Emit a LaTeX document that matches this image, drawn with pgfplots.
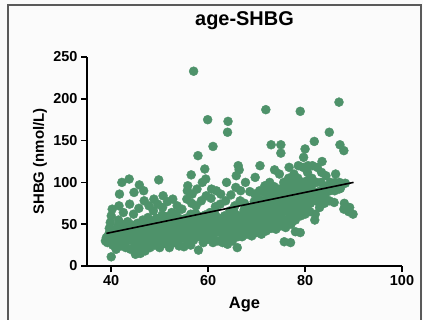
\documentclass[border=0pt]{standalone}
\usepackage{fontspec}
\setmainfont{Liberation Sans}
\usepackage{pgfplots}
\pgfplotsset{compat=1.18}
\definecolor{dotgreen}{RGB}{78,146,106}
\definecolor{pagebg}{RGB}{251,251,251}
\definecolor{framegray}{RGB}{90,90,90}
\begin{document}
\begin{tikzpicture}
% page background and frame
\fill[pagebg] (0,0) rectangle (423bp,320bp);
\useasboundingbox (0,0) rectangle (423bp,320bp);
\draw[framegray, line width=1.2bp] (8bp,0) -- (8bp,315bp) -- (421bp,315bp) -- (421bp,0);
\begin{axis}[
  at={(87bp,54bp)}, anchor=south west,
  scale only axis, width=315bp, height=209bp,
  xmin=35, xmax=100, ymin=0, ymax=250,
  axis lines*=left,
  axis line style={line width=1.5bp, black},
  xtick={40,60,80,100}, ytick={0,50,100,150,200,250},
  tick align=outside, major tick length=6bp,
  tick style={line width=1.5bp, black},
  minor tick num=0,
  /pgf/number format/assume math mode=true,
  ticklabel style={font=\bfseries\fontsize{14.5}{16}\selectfont},
  title={age-SHBG},
  title style={at={(axis description cs:0.5,1.1435)}, anchor=center, font=\bfseries\fontsize{20}{22}\selectfont},
  xlabel={Age},
  xlabel style={at={(axis description cs:0.5,-0.187)}, anchor=center, font=\bfseries\fontsize{16.5}{18}\selectfont},
  ylabel={SHBG (nmol/L)},
  ylabel style={at={(axis description cs:-0.149,0.5)}, anchor=center, rotate=0, font=\bfseries\fontsize{15}{17}\selectfont},
  clip=false, clip marker paths=true,
]
% individual subjects
\addplot[only marks, mark=*, mark size=4.5bp, mark options={draw=dotgreen, fill=dotgreen}] coordinates {
(38.8,30)(39,34)(39.2,28)(39.5,38)(39.6,45)(39.8,52)(40,11)(40,60)(40.3,25)(40.5,33)(40.6,42)(40.2,68)
(41,20)(41,28)(41.2,36)(41.3,47)(41.5,55)(41.7,86)(42,24)(42,40)(42.2,31)(42.3,50)(42.5,64)(42.2,100)(41.6,72)
(43,22)(43.1,29)(43.2,36)(43.3,44)(43.4,53)(43.7,104)(43.8,74)(44,20)(44.1,33)(44.2,41)(44.3,49)(44.6,62)(44.7,88)(44.8,27)
(45,14)(45.1,24)(45.2,35)(45.3,43)(45.4,51)(45.7,69)(45.8,97)(46,15)(46.1,30)(46.2,22)(46.3,39)(46.4,47)(46.5,55)(46.7,90)(46.8,78)
(47,18)(47.1,27)(47.2,34)(47.3,42)(47.4,50)(47.6,58)(47.8,72)(48,22)(48.1,30)(48.2,38)(48.3,46)(48.4,54)(48.7,66)(48.8,80)
(49,25)(49.1,33)(49.2,41)(49.3,49)(49.4,57)(49.6,74)(49.8,103)(50,22)(50.1,30)(50.2,37)(50.3,45)(50.4,53)(50.5,61)(50.7,84)(50.6,70)
(51,27)(51.1,35)(51.2,43)(51.3,51)(51.4,59)(51.6,77)(52,22)(52.1,30)(52.2,38)(52.3,46)(52.4,54)(52.5,64)(52.7,80)
(53,28)(53.1,36)(53.2,44)(53.3,52)(53.4,62)(53.6,72)(54,24)(54.1,32)(54.2,40)(54.3,48)(54.4,56)(54.6,68)
(55,23)(55.1,33)(55.2,41)(55.3,49)(55.4,57)(55.6,80)(55.7,90)(56,27)(56.1,36)(56.2,44)(56.3,52)(56.4,62)(56.6,75)(56.7,86)(56.5,109)(56.4,25)(55.8,96)
(57,31)(57.1,39)(57.2,47)(57.3,55)(57.4,63)(57.5,72)(57.7,92)(57,233)(58,19)(58.1,35)(58.2,43)(58.3,51)(58.4,59)(58.6,78)(58.8,100)(57.9,132)
(59,28)(59.1,37)(59.2,45)(59.3,53)(59.4,61)(59.6,84)(59.3,116)(59.5,104)(60,32)(60.1,40)(60.2,48)(60.3,56)(60.4,64)(60.6,81)(60.7,92)(59.9,175)
(61,28)(61.1,38)(61.2,46)(61.3,54)(61.4,62)(61.5,71)(61.7,90)(61,143)(62,30)(62.1,41)(62.2,49)(62.3,57)(62.5,74)(62.6,86)
(63,28)(63.1,36)(63.2,44)(63.3,52)(63.4,60)(63.6,78)(63.8,100)(64,26)(64.1,33)(64.2,42)(64.3,50)(64.4,58)(64.5,66)(64.7,85)(64,160)(64.1,173)
(65,30)(65.1,40)(65.2,48)(65.3,56)(65.4,64)(65.5,72)(65.7,94)(65.8,108)(66,22)(66.1,35)(66.2,44)(66.3,52)(66.4,60)(66.6,78)(66.7,90)(66.2,120)(66.4,115)
(67,35)(67.1,43)(67.2,51)(67.3,59)(67.4,67)(67.5,75)(67.7,100)(68,38)(68.1,46)(68.2,54)(68.3,62)(68.4,70)(68.6,89)
(69,36)(69.1,44)(69.2,52)(69.3,60)(69.4,68)(69.5,77)(69.6,86)(69.7,106)(70,40)(70.1,48)(70.2,56)(70.3,64)(70.4,72)(70.5,80)(70.6,90)(70.7,120)
(71,38)(71.1,46)(71.2,54)(71.3,62)(71.4,70)(71.5,78)(71.6,88)(71.7,96)(72,42)(72.1,50)(72.2,58)(72.3,66)(72.4,74)(72.5,82)(72.6,90)(72.7,100)(71.9,187)
(73,45)(73.1,53)(73.2,61)(73.3,69)(73.4,77)(73.5,85)(73.6,95)(73.7,115)(73,145)(74,44)(74.1,52)(74.2,60)(74.3,68)(74.4,76)(74.5,84)(74.6,92)(74.7,110)
(75,48)(75.1,56)(75.2,64)(75.3,72)(75.4,80)(75.5,90)(75.6,100)(75,135)(75,145)(75.7,29)(76,46)(76.1,55)(76.2,65)(76.3,75)(76.4,85)(76.5,95)(76.6,105)(76.7,118)
(77,28)(77.1,50)(77.2,60)(77.3,70)(77.4,80)(77.5,90)(77.6,100)(77.7,110)(78,55)(78.1,65)(78.2,75)(78.3,85)(78.4,95)(78.5,105)(78.6,120)(78,41)
(79,40)(79.1,60)(79.2,70)(79.3,80)(79.4,90)(79.5,100)(79.6,118)(79,185)(79.7,130)(80,62)(80.1,72)(80.2,82)(80.3,92)(80.4,102)(80.5,112)(80.6,120)(80,140)
(81,65)(81.1,75)(81.2,85)(81.3,95)(81.4,105)(81.5,120)(82,55)(82.1,62)(82.2,78)(82.3,88)(82.4,100)(82.5,118)(81.9,149)
(83,70)(83.1,80)(83.2,90)(83.3,100)(83.4,112)(83.5,125)(84,75)(84.1,85)(84.2,95)(84.3,108)
(85,78)(85.1,90)(85.2,100)(85,160)(86,76)(86.1,90)(86.2,100)(86.3,110)(87,92)(87.1,100)(87.2,145)(87,196)(88,68)(88.1,75)(88.3,99)(88,138)(89,65)(89.2,70)(89.9,62)(87.3,93)
};
% linear fit
\addplot[black, line width=1.6bp] coordinates {(39,39) (90,100)};
\end{axis}
\end{tikzpicture}
\end{document}
